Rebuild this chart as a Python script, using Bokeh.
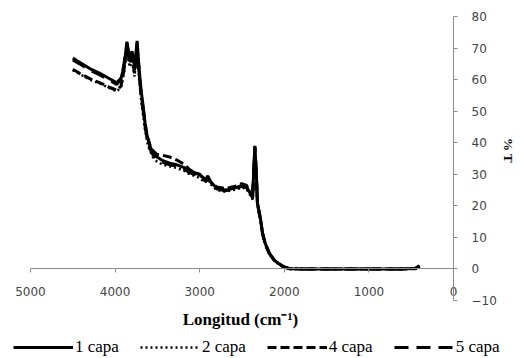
import math
from bokeh.plotting import figure
from bokeh.models import (Range1d, LinearAxis, FixedTicker, Label, Legend, LegendItem,
                          ColumnDataSource, Grid)
from bokeh.embed import file_html
from bokeh.resources import INLINE

# ---------------- data ----------------
wavenumber = [4500, 4420, 4300, 4180, 4060, 3980, 3930, 3895, 3860, 3830, 3800, 3770, 3740,
              3715, 3690, 3670, 3645, 3620, 3590, 3555, 3505, 3435, 3355, 3270, 3175, 3120,
              3060, 3000, 2965, 2930, 2905, 2870, 2800, 2705, 2645, 2565, 2505, 2445, 2400,
              2375, 2360, 2348, 2330, 2318, 2282, 2258, 2224, 2176, 2118, 2060, 2000, 1940,
              1800, 1500, 1200, 900, 600, 450, 420, 400]

capa1 = [66.8, 65.5, 63.5, 62.0, 60.2, 59.0, 60.5, 64.0, 72.0, 67.0, 69.0, 64.0, 72.3,
         63.0, 56.0, 52.0, 46.0, 42.0, 39.0, 37.0, 35.5, 34.3, 33.5, 33.0, 32.0, 31.0,
         30.5, 30.0, 29.0, 28.2, 29.5, 27.5, 25.7, 25.0, 25.2, 25.8, 26.5, 26.0, 23.8,
         22.5, 32.0, 39.0, 30.0, 21.0, 16.0, 11.5, 8.0, 5.0, 2.8, 1.6, 0.6, 0.1,
         0.0, 0.0, 0.0, 0.0, 0.0, 0.2, 0.7, 1.0]

capa2 = [63.0, 61.8, 60.0, 58.8, 57.2, 56.3, 57.5, 62.0, 70.0, 64.0, 66.0, 61.0, 70.0,
         60.0, 53.0, 49.0, 44.0, 40.0, 37.5, 35.5, 34.0, 33.0, 32.5, 32.0, 31.0, 30.0,
         29.5, 28.8, 28.0, 27.5, 28.5, 26.8, 25.0, 24.5, 24.8, 25.2, 25.8, 25.4, 23.2,
         22.0, 31.0, 38.0, 29.0, 20.5, 15.5, 11.0, 7.6, 4.7, 2.6, 1.4, 0.5, 0.1,
         0.0, 0.0, 0.0, 0.0, 0.0, 0.1, 0.5, 0.8]

capa4 = [63.3, 62.0, 60.3, 59.0, 57.5, 56.6, 58.0, 63.0, 71.0, 65.0, 67.0, 62.0, 71.0,
         61.5, 55.0, 51.0, 46.0, 42.0, 39.5, 37.5, 36.3, 36.0, 35.5, 34.5, 33.0, 31.5,
         30.5, 29.8, 29.0, 28.5, 29.3, 27.6, 26.0, 25.5, 25.8, 26.3, 27.0, 26.5, 24.0,
         22.8, 31.5, 38.5, 29.5, 21.0, 15.8, 11.3, 7.8, 4.9, 2.7, 1.5, 0.6, 0.1,
         0.0, 0.0, 0.0, 0.0, 0.0, 0.2, 0.6, 0.9]

capa5 = [66.2, 65.0, 63.0, 61.5, 59.7, 58.5, 60.0, 65.0, 71.5, 66.0, 68.0, 63.0, 71.5,
         62.0, 54.0, 50.5, 45.0, 41.0, 38.2, 36.2, 34.8, 33.8, 33.0, 32.5, 31.5, 30.5,
         30.0, 29.3, 28.5, 27.8, 29.0, 27.2, 25.4, 24.8, 25.0, 25.5, 26.2, 25.7, 23.5,
         22.3, 31.8, 38.8, 29.8, 20.8, 15.6, 11.2, 7.7, 4.8, 2.7, 1.5, 0.5, 0.1,
         0.0, 0.0, 0.0, 0.0, 0.0, 0.1, 0.6, 0.9]

series_labels = ["1 capa", "2 capa", "4 capa", "5 capa"]
x_ticks = [5000, 4000, 3000, 2000, 1000, 0]
y_ticks = [-10, 0, 10, 20, 30, 40, 50, 60, 70, 80]
x_title = "Longitud (cm\u207b\u00b9)"
y_title = "% T"

# ---------------- layout (pixels) ----------------
W, H = 520, 358
X_LEFT_PX, X_RIGHT_PX = 30, 453      # where 5000 and 0 sit
Y_TOP_PX, Y_BOT_PX = 16, 300         # where 80 and -10 sit
xs = (X_RIGHT_PX - X_LEFT_PX) / (x_ticks[0] - x_ticks[-1])
ys = (Y_BOT_PX - Y_TOP_PX) / (y_ticks[-1] - y_ticks[0])
x_range = Range1d(x_ticks[0] + X_LEFT_PX / xs, x_ticks[-1] - (W - X_RIGHT_PX) / xs)
y_range = Range1d(y_ticks[0] - (H - Y_BOT_PX) / ys, y_ticks[-1] + Y_TOP_PX / ys)

p = figure(width=W, height=H, x_range=x_range, y_range=y_range,
           output_backend="svg", toolbar_location=None,
           x_axis_location=None, y_axis_location=None, min_border=0)
p.outline_line_color = None
p.background_fill_color = "white"
p.border_fill_color = "white"
p.center = [c for c in p.center if not isinstance(c, Grid)]

src = ColumnDataSource(dict(x=wavenumber, c1=capa1, c2=capa2, c4=capa4, c5=capa5))

r5 = p.line("x", "c5", source=src, line_color="black", line_width=3, line_dash="14 8")
r4 = p.line("x", "c4", source=src, line_color="black", line_width=3, line_dash="9 4")
r2 = p.line("x", "c2", source=src, line_color="black", line_width=2.5, line_dash="2 3")
r1 = p.line("x", "c1", source=src, line_color="black", line_width=3)

tick_font = "DejaVu Sans"
tick_color = "#444444"
axis_color = "#8c8c8c"

xaxis = LinearAxis(fixed_location=0, ticker=FixedTicker(ticks=x_ticks),
                   bounds=(x_ticks[-1], x_ticks[0]))
xaxis.axis_line_color = axis_color
xaxis.major_tick_line_color = axis_color
xaxis.major_tick_out = 4
xaxis.major_tick_in = 0
xaxis.minor_tick_out = 0
xaxis.minor_tick_in = 0
xaxis.major_label_standoff = 14
xaxis.major_label_text_font = tick_font
xaxis.major_label_text_font_size = "12px"
xaxis.major_label_text_color = tick_color
p.add_layout(xaxis, "below")

yaxis = LinearAxis(fixed_location=0, ticker=FixedTicker(ticks=y_ticks),
                   bounds=(y_ticks[0], y_ticks[-1]))
yaxis.axis_line_color = axis_color
yaxis.major_tick_line_color = axis_color
yaxis.major_tick_out = 4
yaxis.major_tick_in = 0
yaxis.minor_tick_out = 0
yaxis.minor_tick_in = 0
yaxis.major_label_standoff = 14
yaxis.major_label_text_font = tick_font
yaxis.major_label_text_font_size = "12px"
yaxis.major_label_text_color = tick_color
p.add_layout(yaxis, "right")

p.add_layout(Label(x=240, y=H - 319, x_units="screen", y_units="screen", text=x_title,
                   text_font="Liberation Serif", text_font_style="bold",
                   text_font_size="17px", text_align="center", text_baseline="middle",
                   text_color="black"))
p.add_layout(Label(x=508, y=H - 150, x_units="screen", y_units="screen", text=y_title,
                   angle=-math.pi / 2, text_font="Liberation Serif", text_font_style="bold",
                   text_font_size="13px", text_align="center", text_baseline="middle",
                   text_color="black"))

legend = Legend(items=[LegendItem(label=series_labels[0], renderers=[r1]),
                       LegendItem(label=series_labels[1], renderers=[r2]),
                       LegendItem(label=series_labels[2], renderers=[r4]),
                       LegendItem(label=series_labels[3], renderers=[r5])],
                orientation="horizontal", location=(13, 1),
                glyph_width=60, glyph_height=18, label_standoff=2, spacing=21,
                padding=0, margin=0, border_line_color=None, background_fill_alpha=0,
                label_text_font="Liberation Serif", label_text_font_size="17px",
                label_text_color="black", label_height=18)
p.add_layout(legend)

open("out.html", "w").write(file_html(p, INLINE))
